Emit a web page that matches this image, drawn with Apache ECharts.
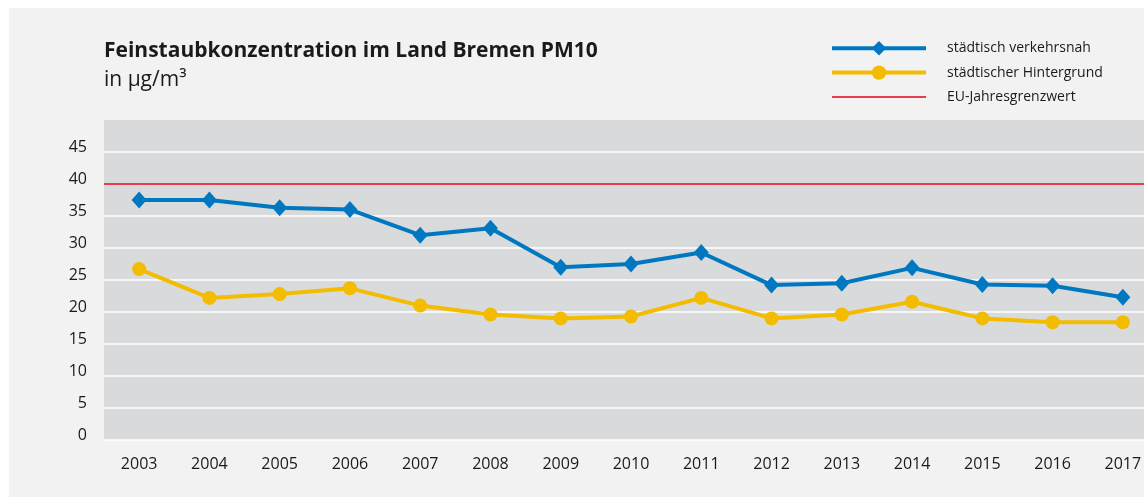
<!DOCTYPE html>
<html>
<head>
<meta charset="utf-8">
<script src="https://cdn.jsdelivr.net/npm/echarts@6/dist/echarts.min.js"></script>
<style>
  html, body { margin: 0; padding: 0; background: #fff; }
  #wrap { position: relative; width: 1144px; height: 497px; background: #fff; overflow: hidden; }
  #chart { position: absolute; left: 9px; top: 8px; width: 1170px; height: 489px; background: #f2f2f2; }
</style>
</head>
<body>
<div id="wrap"><div id="chart"></div></div>
<script>
// Feinstaub PM10 Bremen
var years = ['2003', '2004', '2005', '2006', '2007', '2008', '2009', '2010', '2011', '2012', '2013', '2014', '2015', '2016', '2017'];
var verkehrsnah = [37.5, 37.5, 36.3, 36.0, 32.0, 33.1, 27.0, 27.5, 29.3, 24.2, 24.5, 26.9, 24.3, 24.1, 22.3];
var hintergrund = [26.7, 22.2, 22.8, 23.7, 21.0, 19.6, 19.0, 19.3, 22.2, 19.0, 19.6, 21.6, 19.0, 18.4, 18.4];
var grenzwert = 40;
var seriesNames = ['städtisch verkehrsnah', 'städtischer Hintergrund', 'EU-Jahresgrenzwert'];

(function () {
  var myChart = echarts.init(document.getElementById('chart'));
  var font = '"Open Sans", "Noto Sans", sans-serif';
  var blau = '#0078c1', gelb = '#f4bc00', rot = '#e2001a';
  var option = {
    animation: false,
    textStyle: { fontFamily: font, color: '#1a1a1a' },
    title: {
      text: 'Feinstaubkonzentration im Land Bremen PM10',
      subtext: 'in µg/m³',
      left: 90,
      top: 28,
      itemGap: 8,
      textStyle: { fontFamily: font, fontSize: 21, fontWeight: 'bold', color: '#1a1a1a' },
      subtextStyle: { fontFamily: font, fontSize: 21, color: '#1a1a1a' }
    },
    legend: {
      orient: 'vertical',
      left: 816,
      top: 28,
      itemWidth: 94,
      itemHeight: 18,
      itemGap: 10,
      data: [
        { name: seriesNames[0], lineStyle: { width: 4 } },
        { name: seriesNames[1], lineStyle: { width: 4 } },
        { name: seriesNames[2], itemStyle: { opacity: 0 }, lineStyle: { width: 1.5 } }
      ],
      textStyle: { fontFamily: font, fontSize: 14, color: '#1a1a1a', padding: [0, 0, 0, 16] }
    },
    grid: {
      left: 95,
      top: 112,
      width: 1054,
      height: 320,
      show: true,
      backgroundColor: '#d9dadb',
      borderWidth: 0
    },
    xAxis: {
      type: 'category',
      data: years,
      boundaryGap: true,
      axisLine: { show: false },
      axisTick: { show: false },
      axisLabel: { fontSize: 16, color: '#1a1a1a', margin: 16 }
    },
    yAxis: {
      type: 'value',
      min: 0,
      max: 50,
      interval: 5,
      axisLine: { show: false },
      axisTick: { show: false },
      axisLabel: { fontSize: 16, color: '#1a1a1a', margin: 17, showMaxLabel: false, verticalAlign: 'bottom', lineHeight: 10 },
      splitLine: { show: true, showMaxLine: false, lineStyle: { color: '#ffffff', width: 1.5 } }
    },
    series: [
      {
        name: seriesNames[0],
        type: 'line',
        data: verkehrsnah,
        symbol: 'diamond',
        symbolSize: [15, 17],
        z: 4,
        itemStyle: { color: blau },
        lineStyle: { color: blau, width: 4 }
      },
      {
        name: seriesNames[1],
        type: 'line',
        data: hintergrund,
        symbol: 'circle',
        symbolSize: 14,
        z: 3,
        itemStyle: { color: gelb },
        lineStyle: { color: gelb, width: 4 }
      },
      {
        // nur für Legende + Grenzwertlinie
        name: seriesNames[2],
        type: 'line',
        data: [],
        symbol: 'none',
        itemStyle: { color: rot },
        lineStyle: { color: rot, width: 1.5 },
        markLine: {
          silent: true,
          symbol: 'none',
          label: { show: false },
          lineStyle: { color: rot, width: 1.5, type: 'solid' },
          data: [{ yAxis: grenzwert }]
        }
      }
    ]
  };
  myChart.setOption(option);
})();
</script>
</body>
</html>
